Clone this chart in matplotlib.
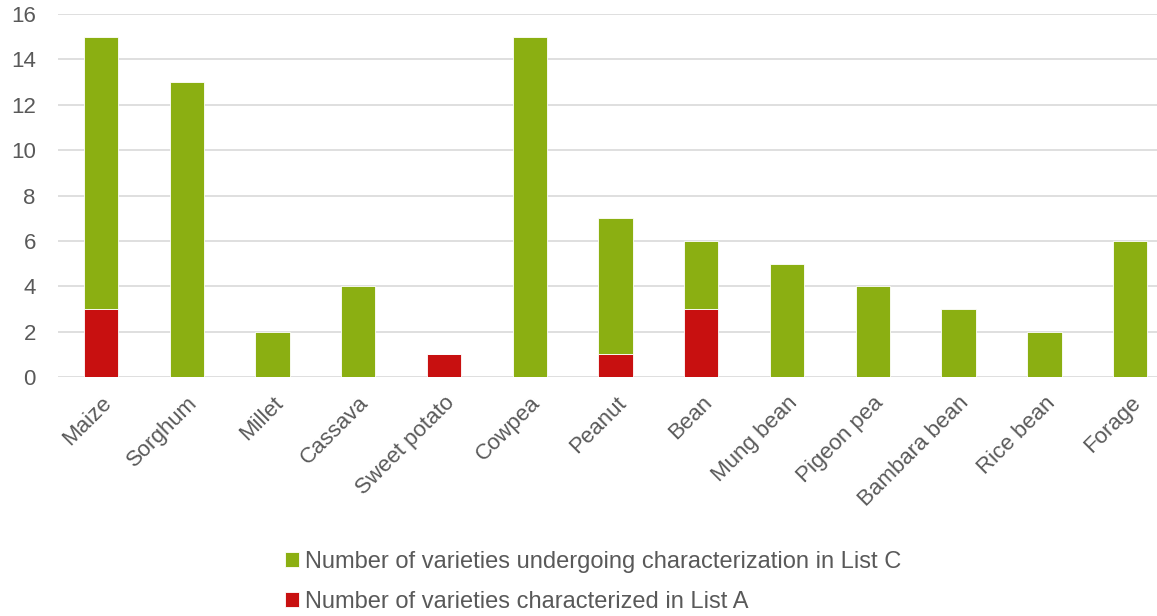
import matplotlib
matplotlib.use('Agg')
import matplotlib.pyplot as plt
import numpy as np

plt.rcParams['font.family'] = ['Liberation Sans', 'DejaVu Sans']

crops = ['Maize', 'Sorghum', 'Millet', 'Cassava', 'Sweet potato', 'Cowpea', 'Peanut',
         'Bean', 'Mung bean', 'Pigeon pea', 'Bambara bean', 'Rice bean', 'Forage']
list_a = [3, 0, 0, 0, 1, 0, 1, 3, 0, 0, 0, 0, 0]
list_c = [12, 13, 2, 4, 0, 15, 6, 3, 5, 4, 3, 2, 6]

green = '#8BAF12'
red = '#C81010'
txt = '#595959'

fig = plt.figure(figsize=(11.57, 6.16), dpi=100)
ax = fig.add_axes([58 / 1157, 1 - 377 / 616, 1115 / 1157, 363 / 616])

x = np.arange(len(crops))
ax.bar(x, list_a, width=0.4, color=red, edgecolor='white', linewidth=0.6,
       label='Number of varieties characterized in List A')
ax.bar(x, list_c, width=0.4, bottom=list_a, color=green, edgecolor='white', linewidth=0.6,
       label='Number of varieties undergoing characterization in List C')

ax.set_xlim(-0.5, len(crops) - 0.5)
ax.set_ylim(0, 16)
ax.set_yticks(range(0, 17, 2))
ax.yaxis.grid(True, color='#D9D9D9', linewidth=1.2)
ax.set_axisbelow(True)
for s in ['top', 'right', 'left', 'bottom']:
    ax.spines[s].set_visible(False)
ax.tick_params(axis='both', length=0, labelsize=16, colors=txt)
ax.tick_params(axis='x', pad=11)
ax.tick_params(axis='y', pad=16)
ax.set_xticks(x)
ax.set_xticklabels(crops, rotation=45, ha='right', rotation_mode='anchor')

handles, labels = ax.get_legend_handles_labels()
leg = fig.legend(handles[::-1], labels[::-1], loc='center left',
                 bbox_to_anchor=(264 / 1157, 1 - 582 / 616), frameon=False,
                 fontsize=17, handlelength=0.6, handleheight=0.6, handletextpad=0.25,
                 labelspacing=0.75, labelcolor=txt)

fig.savefig('out.png', dpi=100)
